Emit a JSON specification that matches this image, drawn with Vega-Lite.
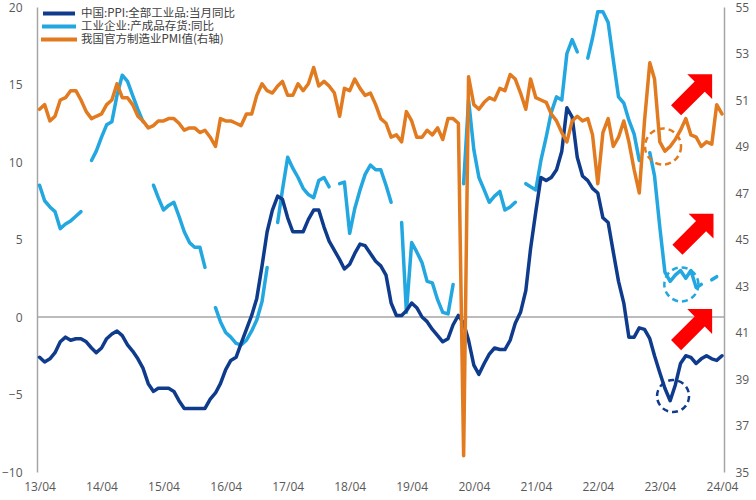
{
  "$schema": "https://vega.github.io/schema/vega-lite/v6.json",
  "width": 687,
  "height": 465,
  "autosize": {"type": "none"},
  "padding": {"left": 37, "top": 7, "right": 32, "bottom": 28},
  "background": "white",
  "config": {
    "view": {"stroke": null},
    "font": "Open Sans",
    "axis": {"labelFont": "Open Sans", "labelFontSize": 12, "labelColor": "#595959", "grid": false, "ticks": false, "title": null}
  },
  "datasets": {
    "main": [
      {"d": "2013-04-01", "ppi": -2.6, "inv": 8.5, "pmi": 50.6},
      {"d": "2013-05-01", "ppi": -2.9, "inv": 7.5, "pmi": 50.8},
      {"d": "2013-06-01", "ppi": -2.7, "inv": 7.1, "pmi": 50.1},
      {"d": "2013-07-01", "ppi": -2.3, "inv": 6.8, "pmi": 50.3},
      {"d": "2013-08-01", "ppi": -1.6, "inv": 5.7, "pmi": 51.0},
      {"d": "2013-09-01", "ppi": -1.3, "inv": 6.0, "pmi": 51.1},
      {"d": "2013-10-01", "ppi": -1.5, "inv": 6.2, "pmi": 51.4},
      {"d": "2013-11-01", "ppi": -1.4, "inv": 6.5, "pmi": 51.4},
      {"d": "2013-12-01", "ppi": -1.4, "inv": 6.8, "pmi": 51.0},
      {"d": "2014-01-01", "ppi": -1.6, "inv": null, "pmi": 50.5},
      {"d": "2014-02-01", "ppi": -2.0, "inv": 10.1, "pmi": 50.2},
      {"d": "2014-03-01", "ppi": -2.3, "inv": 10.7, "pmi": 50.3},
      {"d": "2014-04-01", "ppi": -2.0, "inv": 11.6, "pmi": 50.4},
      {"d": "2014-05-01", "ppi": -1.4, "inv": 12.4, "pmi": 50.8},
      {"d": "2014-06-01", "ppi": -1.1, "inv": 12.6, "pmi": 51.0},
      {"d": "2014-07-01", "ppi": -0.9, "inv": 14.3, "pmi": 51.7},
      {"d": "2014-08-01", "ppi": -1.2, "inv": 15.6, "pmi": 51.1},
      {"d": "2014-09-01", "ppi": -1.8, "inv": 15.2, "pmi": 51.1},
      {"d": "2014-10-01", "ppi": -2.2, "inv": 14.3, "pmi": 50.8},
      {"d": "2014-11-01", "ppi": -2.7, "inv": 13.4, "pmi": 50.3},
      {"d": "2014-12-01", "ppi": -3.3, "inv": 12.6, "pmi": 50.1},
      {"d": "2015-01-01", "ppi": -4.3, "inv": null, "pmi": 49.8},
      {"d": "2015-02-01", "ppi": -4.8, "inv": 8.5, "pmi": 49.9},
      {"d": "2015-03-01", "ppi": -4.6, "inv": 7.7, "pmi": 50.1},
      {"d": "2015-04-01", "ppi": -4.6, "inv": 6.9, "pmi": 50.1},
      {"d": "2015-05-01", "ppi": -4.6, "inv": 7.2, "pmi": 50.2},
      {"d": "2015-06-01", "ppi": -4.8, "inv": 7.4, "pmi": 50.2},
      {"d": "2015-07-01", "ppi": -5.4, "inv": 6.5, "pmi": 50.0},
      {"d": "2015-08-01", "ppi": -5.9, "inv": 5.5, "pmi": 49.7},
      {"d": "2015-09-01", "ppi": -5.9, "inv": 4.8, "pmi": 49.8},
      {"d": "2015-10-01", "ppi": -5.9, "inv": 4.5, "pmi": 49.8},
      {"d": "2015-11-01", "ppi": -5.9, "inv": 4.5, "pmi": 49.6},
      {"d": "2015-12-01", "ppi": -5.9, "inv": 3.2, "pmi": 49.7},
      {"d": "2016-01-01", "ppi": -5.3, "inv": null, "pmi": 49.4},
      {"d": "2016-02-01", "ppi": -4.9, "inv": 0.6, "pmi": 49.0},
      {"d": "2016-03-01", "ppi": -4.3, "inv": -0.3, "pmi": 50.2},
      {"d": "2016-04-01", "ppi": -3.4, "inv": -1.0, "pmi": 50.1},
      {"d": "2016-05-01", "ppi": -2.8, "inv": -1.3, "pmi": 50.1},
      {"d": "2016-06-01", "ppi": -2.6, "inv": -1.7, "pmi": 50.0},
      {"d": "2016-07-01", "ppi": -1.7, "inv": -1.8, "pmi": 49.9},
      {"d": "2016-08-01", "ppi": -0.8, "inv": -1.5, "pmi": 50.4},
      {"d": "2016-09-01", "ppi": 0.1, "inv": -0.9, "pmi": 50.4},
      {"d": "2016-10-01", "ppi": 1.2, "inv": -0.2, "pmi": 51.2},
      {"d": "2016-11-01", "ppi": 3.3, "inv": 1.0, "pmi": 51.7},
      {"d": "2016-12-01", "ppi": 5.5, "inv": 3.2, "pmi": 51.4},
      {"d": "2017-01-01", "ppi": 6.9, "inv": null, "pmi": 51.3},
      {"d": "2017-02-01", "ppi": 7.8, "inv": 6.1, "pmi": 51.6},
      {"d": "2017-03-01", "ppi": 7.6, "inv": 8.2, "pmi": 51.8},
      {"d": "2017-04-01", "ppi": 6.4, "inv": 10.3, "pmi": 51.2},
      {"d": "2017-05-01", "ppi": 5.5, "inv": 9.6, "pmi": 51.2},
      {"d": "2017-06-01", "ppi": 5.5, "inv": 9.0, "pmi": 51.7},
      {"d": "2017-07-01", "ppi": 5.5, "inv": 8.3, "pmi": 51.4},
      {"d": "2017-08-01", "ppi": 6.3, "inv": 7.9, "pmi": 51.7},
      {"d": "2017-09-01", "ppi": 6.9, "inv": 7.7, "pmi": 52.4},
      {"d": "2017-10-01", "ppi": 6.9, "inv": 8.8, "pmi": 51.6},
      {"d": "2017-11-01", "ppi": 5.8, "inv": 9.0, "pmi": 51.8},
      {"d": "2017-12-01", "ppi": 4.9, "inv": 8.4, "pmi": 51.6},
      {"d": "2018-01-01", "ppi": 4.3, "inv": null, "pmi": 51.3},
      {"d": "2018-02-01", "ppi": 3.7, "inv": 8.6, "pmi": 50.3},
      {"d": "2018-03-01", "ppi": 3.1, "inv": 8.7, "pmi": 51.5},
      {"d": "2018-04-01", "ppi": 3.4, "inv": 5.4, "pmi": 51.4},
      {"d": "2018-05-01", "ppi": 4.1, "inv": 7.0, "pmi": 51.9},
      {"d": "2018-06-01", "ppi": 4.7, "inv": 8.2, "pmi": 51.5},
      {"d": "2018-07-01", "ppi": 4.6, "inv": 9.2, "pmi": 51.2},
      {"d": "2018-08-01", "ppi": 4.1, "inv": 9.8, "pmi": 51.3},
      {"d": "2018-09-01", "ppi": 3.6, "inv": 9.5, "pmi": 50.8},
      {"d": "2018-10-01", "ppi": 3.3, "inv": 9.5, "pmi": 50.2},
      {"d": "2018-11-01", "ppi": 2.7, "inv": 8.5, "pmi": 50.0},
      {"d": "2018-12-01", "ppi": 0.9, "inv": 7.4, "pmi": 49.4},
      {"d": "2019-01-01", "ppi": 0.1, "inv": null, "pmi": 49.5},
      {"d": "2019-02-01", "ppi": 0.1, "inv": 6.1, "pmi": 49.2},
      {"d": "2019-03-01", "ppi": 0.4, "inv": 0.3, "pmi": 50.5},
      {"d": "2019-04-01", "ppi": 0.9, "inv": 4.8, "pmi": 50.1},
      {"d": "2019-05-01", "ppi": 0.6, "inv": 4.2, "pmi": 49.4},
      {"d": "2019-06-01", "ppi": 0.0, "inv": 3.5, "pmi": 49.4},
      {"d": "2019-07-01", "ppi": -0.3, "inv": 2.3, "pmi": 49.7},
      {"d": "2019-08-01", "ppi": -0.8, "inv": 2.2, "pmi": 49.5},
      {"d": "2019-09-01", "ppi": -1.2, "inv": 1.1, "pmi": 49.8},
      {"d": "2019-10-01", "ppi": -1.6, "inv": 0.3, "pmi": 49.3},
      {"d": "2019-11-01", "ppi": -1.4, "inv": 0.2, "pmi": 50.2},
      {"d": "2019-12-01", "ppi": -0.5, "inv": 2.1, "pmi": 50.2},
      {"d": "2020-01-01", "ppi": 0.1, "inv": null, "pmi": 50.0},
      {"d": "2020-02-01", "ppi": -0.4, "inv": 8.6, "pmi": 35.7},
      {"d": "2020-03-01", "ppi": -1.5, "inv": 14.0, "pmi": 52.0},
      {"d": "2020-04-01", "ppi": -3.1, "inv": 10.8, "pmi": 50.8},
      {"d": "2020-05-01", "ppi": -3.7, "inv": 9.0, "pmi": 50.6},
      {"d": "2020-06-01", "ppi": -3.0, "inv": 8.2, "pmi": 50.9},
      {"d": "2020-07-01", "ppi": -2.4, "inv": 7.4, "pmi": 51.1},
      {"d": "2020-08-01", "ppi": -2.0, "inv": 7.8, "pmi": 51.0},
      {"d": "2020-09-01", "ppi": -2.1, "inv": 8.1, "pmi": 51.5},
      {"d": "2020-10-01", "ppi": -2.1, "inv": 6.9, "pmi": 51.4},
      {"d": "2020-11-01", "ppi": -1.5, "inv": 7.1, "pmi": 52.1},
      {"d": "2020-12-01", "ppi": -0.4, "inv": 7.4, "pmi": 51.9},
      {"d": "2021-01-01", "ppi": 0.3, "inv": null, "pmi": 51.3},
      {"d": "2021-02-01", "ppi": 1.7, "inv": 8.6, "pmi": 50.6},
      {"d": "2021-03-01", "ppi": 4.4, "inv": 8.4, "pmi": 51.9},
      {"d": "2021-04-01", "ppi": 6.8, "inv": 8.2, "pmi": 51.1},
      {"d": "2021-05-01", "ppi": 9.0, "inv": 10.1, "pmi": 51.0},
      {"d": "2021-06-01", "ppi": 8.8, "inv": 11.6, "pmi": 50.9},
      {"d": "2021-07-01", "ppi": 9.0, "inv": 13.2, "pmi": 50.4},
      {"d": "2021-08-01", "ppi": 9.5, "inv": 14.2, "pmi": 50.1},
      {"d": "2021-09-01", "ppi": 10.7, "inv": 14.0, "pmi": 49.6},
      {"d": "2021-10-01", "ppi": 13.5, "inv": 17.0, "pmi": 49.2},
      {"d": "2021-11-01", "ppi": 12.9, "inv": 17.9, "pmi": 50.1},
      {"d": "2021-12-01", "ppi": 10.3, "inv": 17.1, "pmi": 50.3},
      {"d": "2022-01-01", "ppi": 9.1, "inv": null, "pmi": 50.1},
      {"d": "2022-02-01", "ppi": 8.8, "inv": 16.7, "pmi": 50.2},
      {"d": "2022-03-01", "ppi": 8.3, "inv": 18.0, "pmi": 49.5},
      {"d": "2022-04-01", "ppi": 8.0, "inv": 19.7, "pmi": 47.4},
      {"d": "2022-05-01", "ppi": 6.4, "inv": 19.7, "pmi": 49.6},
      {"d": "2022-06-01", "ppi": 6.1, "inv": 19.0, "pmi": 50.2},
      {"d": "2022-07-01", "ppi": 4.2, "inv": 16.6, "pmi": 49.0},
      {"d": "2022-08-01", "ppi": 2.3, "inv": 14.2, "pmi": 49.4},
      {"d": "2022-09-01", "ppi": 0.9, "inv": 13.8, "pmi": 50.1},
      {"d": "2022-10-01", "ppi": -1.3, "inv": 12.7, "pmi": 49.2},
      {"d": "2022-11-01", "ppi": -1.3, "inv": 11.8, "pmi": 48.0},
      {"d": "2022-12-01", "ppi": -0.7, "inv": 10.1, "pmi": 47.0},
      {"d": "2023-01-01", "ppi": -0.8, "inv": null, "pmi": 50.1},
      {"d": "2023-02-01", "ppi": -1.4, "inv": 10.6, "pmi": 52.6},
      {"d": "2023-03-01", "ppi": -2.5, "inv": 9.1, "pmi": 51.9},
      {"d": "2023-04-01", "ppi": -3.6, "inv": 5.8, "pmi": 49.2},
      {"d": "2023-05-01", "ppi": -4.6, "inv": 2.9, "pmi": 48.8},
      {"d": "2023-06-01", "ppi": -5.4, "inv": 2.3, "pmi": 49.0},
      {"d": "2023-07-01", "ppi": -4.4, "inv": 2.7, "pmi": 49.3},
      {"d": "2023-08-01", "ppi": -3.0, "inv": 3.0, "pmi": 49.7},
      {"d": "2023-09-01", "ppi": -2.5, "inv": 2.5, "pmi": 50.2},
      {"d": "2023-10-01", "ppi": -2.6, "inv": 3.0, "pmi": 49.5},
      {"d": "2023-11-01", "ppi": -3.0, "inv": 1.9, "pmi": 49.4},
      {"d": "2023-12-01", "ppi": -2.7, "inv": 2.1, "pmi": 49.0},
      {"d": "2024-01-01", "ppi": -2.5, "inv": null, "pmi": 49.2},
      {"d": "2024-02-01", "ppi": -2.7, "inv": 2.4, "pmi": 49.1},
      {"d": "2024-03-01", "ppi": -2.8, "inv": 2.6, "pmi": 50.8},
      {"d": "2024-04-01", "ppi": -2.5, "inv": null, "pmi": 50.4}
    ],
    "circles": [
      {"d": "2023-04-20", "v": 11.0, "s": "我国官方制造业PMI值(右轴)"},
      {"d": "2023-08-06", "v": 2.1, "s": "工业企业:产成品存货:同比"},
      {"d": "2023-06-18", "v": -5.1, "s": "中国:PPI:全部工业品:当月同比"}
    ],
    "arrows": [
      {"d": "2023-10-20", "v": 14.5},
      {"d": "2023-10-28", "v": 5.5},
      {"d": "2023-10-20", "v": -0.65}
    ]
  },
  "data": {"name": "main"},
  "layer": [
    {
      "data": {"values": [{}]},
      "mark": {"type": "rule", "color": "#a6a6a6", "strokeWidth": 1.5},
      "encoding": {
        "y": {"datum": 0, "type": "quantitative", "scale": {"domain": [-10, 20], "nice": false, "zero": false}, "axis": null}
      }
    },
    {
      "transform": [{"filter": "isValid(datum.inv)"}],
      "mark": {"type": "line", "strokeWidth": 3.5, "strokeJoin": "round", "strokeCap": "round"},
      "encoding": {
        "x": {"field": "d", "type": "temporal", "scale": {"type": "utc", "domain": [{"year": 2013, "month": 3, "date": 17, "utc": true}, {"year": 2024, "month": 4, "date": 13, "utc": true}]},
          "axis": {"values": [{"year": 2013, "month": 4, "date": 1, "utc": true}, {"year": 2014, "month": 4, "date": 1, "utc": true}, {"year": 2015, "month": 4, "date": 1, "utc": true}, {"year": 2016, "month": 4, "date": 1, "utc": true}, {"year": 2017, "month": 4, "date": 1, "utc": true}, {"year": 2018, "month": 4, "date": 1, "utc": true}, {"year": 2019, "month": 4, "date": 1, "utc": true}, {"year": 2020, "month": 4, "date": 1, "utc": true}, {"year": 2021, "month": 4, "date": 1, "utc": true}, {"year": 2022, "month": 4, "date": 1, "utc": true}, {"year": 2023, "month": 4, "date": 1, "utc": true}, {"year": 2024, "month": 4, "date": 1, "utc": true}],
            "format": "%y/%m", "domain": false, "ticks": false, "labelPadding": 9, "labelFlush": false, "labelOverlap": false, "title": null}},
        "y": {"field": "inv", "type": "quantitative", "scale": {"domain": [-10, 20], "nice": false, "zero": false}, "axis": null},
        "detail": {"field": "d", "timeUnit": "utcyear", "type": "ordinal"},
        "color": {"datum": "工业企业:产成品存货:同比", "scale": {"domain": ["中国:PPI:全部工业品:当月同比", "工业企业:产成品存货:同比", "我国官方制造业PMI值(右轴)"], "range": ["#0f3b8c", "#23a7e0", "#e27b1f"]},
          "legend": {"orient": "none", "legendX": 2, "legendY": 0, "title": null, "symbolType": "stroke", "symbolSize": 1700, "symbolStrokeWidth": 4, "labelFont": "Noto Sans CJK SC", "labelFontSize": 11.5, "labelColor": "#404040", "rowPadding": 0, "clipHeight": 13, "padding": 0, "labelOffset": 2}}
      }
    },
    {
      "mark": {"type": "line", "strokeWidth": 3.5, "strokeJoin": "round", "strokeCap": "round"},
      "encoding": {
        "x": {"field": "d", "type": "temporal", "scale": {"type": "utc", "domain": [{"year": 2013, "month": 3, "date": 17, "utc": true}, {"year": 2024, "month": 4, "date": 13, "utc": true}]},
          "axis": {"values": [{"year": 2013, "month": 4, "date": 1, "utc": true}, {"year": 2014, "month": 4, "date": 1, "utc": true}, {"year": 2015, "month": 4, "date": 1, "utc": true}, {"year": 2016, "month": 4, "date": 1, "utc": true}, {"year": 2017, "month": 4, "date": 1, "utc": true}, {"year": 2018, "month": 4, "date": 1, "utc": true}, {"year": 2019, "month": 4, "date": 1, "utc": true}, {"year": 2020, "month": 4, "date": 1, "utc": true}, {"year": 2021, "month": 4, "date": 1, "utc": true}, {"year": 2022, "month": 4, "date": 1, "utc": true}, {"year": 2023, "month": 4, "date": 1, "utc": true}, {"year": 2024, "month": 4, "date": 1, "utc": true}],
            "format": "%y/%m", "domain": false, "ticks": false, "labelPadding": 9, "labelFlush": false, "labelOverlap": false, "title": null}},
        "y": {"field": "ppi", "type": "quantitative", "scale": {"domain": [-10, 20], "nice": false, "zero": false},
          "axis": {"orient": "left", "values": [-10, -5, 0, 5, 10, 15, 20], "domain": true, "domainColor": "#a6a6a6", "domainWidth": 1.5, "ticks": false, "labelPadding": 15, "title": null}},
        "color": {"datum": "中国:PPI:全部工业品:当月同比", "scale": {"domain": ["中国:PPI:全部工业品:当月同比", "工业企业:产成品存货:同比", "我国官方制造业PMI值(右轴)"], "range": ["#0f3b8c", "#23a7e0", "#e27b1f"]},
          "legend": {"orient": "none", "legendX": 2, "legendY": 0, "title": null, "symbolType": "stroke", "symbolSize": 1700, "symbolStrokeWidth": 4, "labelFont": "Noto Sans CJK SC", "labelFontSize": 11.5, "labelColor": "#404040", "rowPadding": 0, "clipHeight": 13, "padding": 0, "labelOffset": 2}}
      }
    },
    {
      "mark": {"type": "line", "strokeWidth": 3.5, "strokeJoin": "round", "strokeCap": "round"},
      "encoding": {
        "x": {"field": "d", "type": "temporal", "scale": {"type": "utc", "domain": [{"year": 2013, "month": 3, "date": 17, "utc": true}, {"year": 2024, "month": 4, "date": 13, "utc": true}]},
          "axis": {"values": [{"year": 2013, "month": 4, "date": 1, "utc": true}, {"year": 2014, "month": 4, "date": 1, "utc": true}, {"year": 2015, "month": 4, "date": 1, "utc": true}, {"year": 2016, "month": 4, "date": 1, "utc": true}, {"year": 2017, "month": 4, "date": 1, "utc": true}, {"year": 2018, "month": 4, "date": 1, "utc": true}, {"year": 2019, "month": 4, "date": 1, "utc": true}, {"year": 2020, "month": 4, "date": 1, "utc": true}, {"year": 2021, "month": 4, "date": 1, "utc": true}, {"year": 2022, "month": 4, "date": 1, "utc": true}, {"year": 2023, "month": 4, "date": 1, "utc": true}, {"year": 2024, "month": 4, "date": 1, "utc": true}],
            "format": "%y/%m", "domain": false, "ticks": false, "labelPadding": 9, "labelFlush": false, "labelOverlap": false, "title": null}},
        "y": {"field": "pmi", "type": "quantitative", "scale": {"domain": [35, 55], "nice": false, "zero": false},
          "axis": {"orient": "right", "values": [35, 37, 39, 41, 43, 45, 47, 49, 51, 53, 55], "domain": true, "domainColor": "#a6a6a6", "domainWidth": 1.5, "ticks": false, "labelPadding": 11, "title": null}},
        "color": {"datum": "我国官方制造业PMI值(右轴)", "scale": {"domain": ["中国:PPI:全部工业品:当月同比", "工业企业:产成品存货:同比", "我国官方制造业PMI值(右轴)"], "range": ["#0f3b8c", "#23a7e0", "#e27b1f"]},
          "legend": {"orient": "none", "legendX": 2, "legendY": 0, "title": null, "symbolType": "stroke", "symbolSize": 1700, "symbolStrokeWidth": 4, "labelFont": "Noto Sans CJK SC", "labelFontSize": 11.5, "labelColor": "#404040", "rowPadding": 0, "clipHeight": 13, "padding": 0, "labelOffset": 2}}
      }
    },
    {
      "data": {"name": "circles"},
      "mark": {"type": "point", "filled": false, "strokeWidth": 2.5, "strokeDash": [6, 4], "opacity": 1},
      "encoding": {
        "x": {"field": "d", "type": "temporal", "scale": {"type": "utc", "domain": [{"year": 2013, "month": 3, "date": 17, "utc": true}, {"year": 2024, "month": 4, "date": 13, "utc": true}]},
          "axis": {"values": [{"year": 2013, "month": 4, "date": 1, "utc": true}, {"year": 2014, "month": 4, "date": 1, "utc": true}, {"year": 2015, "month": 4, "date": 1, "utc": true}, {"year": 2016, "month": 4, "date": 1, "utc": true}, {"year": 2017, "month": 4, "date": 1, "utc": true}, {"year": 2018, "month": 4, "date": 1, "utc": true}, {"year": 2019, "month": 4, "date": 1, "utc": true}, {"year": 2020, "month": 4, "date": 1, "utc": true}, {"year": 2021, "month": 4, "date": 1, "utc": true}, {"year": 2022, "month": 4, "date": 1, "utc": true}, {"year": 2023, "month": 4, "date": 1, "utc": true}, {"year": 2024, "month": 4, "date": 1, "utc": true}],
            "format": "%y/%m", "domain": false, "ticks": false, "labelPadding": 9, "labelFlush": false, "labelOverlap": false, "title": null}},
        "y": {"field": "v", "type": "quantitative", "scale": {"domain": [-10, 20], "nice": false, "zero": false}, "axis": null},
        "stroke": {"field": "s", "type": "nominal", "scale": {"domain": ["中国:PPI:全部工业品:当月同比", "工业企业:产成品存货:同比", "我国官方制造业PMI值(右轴)"], "range": ["#0f3b8c", "#23a7e0", "#e27b1f"]}, "legend": null},
        "size": {"field": "s", "type": "ordinal", "scale": {"domain": ["中国:PPI:全部工业品:当月同比", "工业企业:产成品存货:同比", "我国官方制造业PMI值(右轴)"], "range": [1024, 1296, 784]}, "legend": null}
      }
    },
    {
      "data": {"name": "arrows"},
      "mark": {"type": "point", "shape": "M-1,-0.28L0.31,-0.28L0.31,-0.69L1,0L0.31,0.69L0.31,0.28L-1,0.28Z", "filled": true, "color": "#ff0000", "opacity": 1, "angle": -45, "size": 2600, "strokeWidth": 0},
      "encoding": {
        "x": {"field": "d", "type": "temporal", "scale": {"type": "utc", "domain": [{"year": 2013, "month": 3, "date": 17, "utc": true}, {"year": 2024, "month": 4, "date": 13, "utc": true}]},
          "axis": {"values": [{"year": 2013, "month": 4, "date": 1, "utc": true}, {"year": 2014, "month": 4, "date": 1, "utc": true}, {"year": 2015, "month": 4, "date": 1, "utc": true}, {"year": 2016, "month": 4, "date": 1, "utc": true}, {"year": 2017, "month": 4, "date": 1, "utc": true}, {"year": 2018, "month": 4, "date": 1, "utc": true}, {"year": 2019, "month": 4, "date": 1, "utc": true}, {"year": 2020, "month": 4, "date": 1, "utc": true}, {"year": 2021, "month": 4, "date": 1, "utc": true}, {"year": 2022, "month": 4, "date": 1, "utc": true}, {"year": 2023, "month": 4, "date": 1, "utc": true}, {"year": 2024, "month": 4, "date": 1, "utc": true}],
            "format": "%y/%m", "domain": false, "ticks": false, "labelPadding": 9, "labelFlush": false, "labelOverlap": false, "title": null}},
        "y": {"field": "v", "type": "quantitative", "scale": {"domain": [-10, 20], "nice": false, "zero": false}, "axis": null}
      }
    }
  ],
  "resolve": {"scale": {"y": "independent"}}
}
